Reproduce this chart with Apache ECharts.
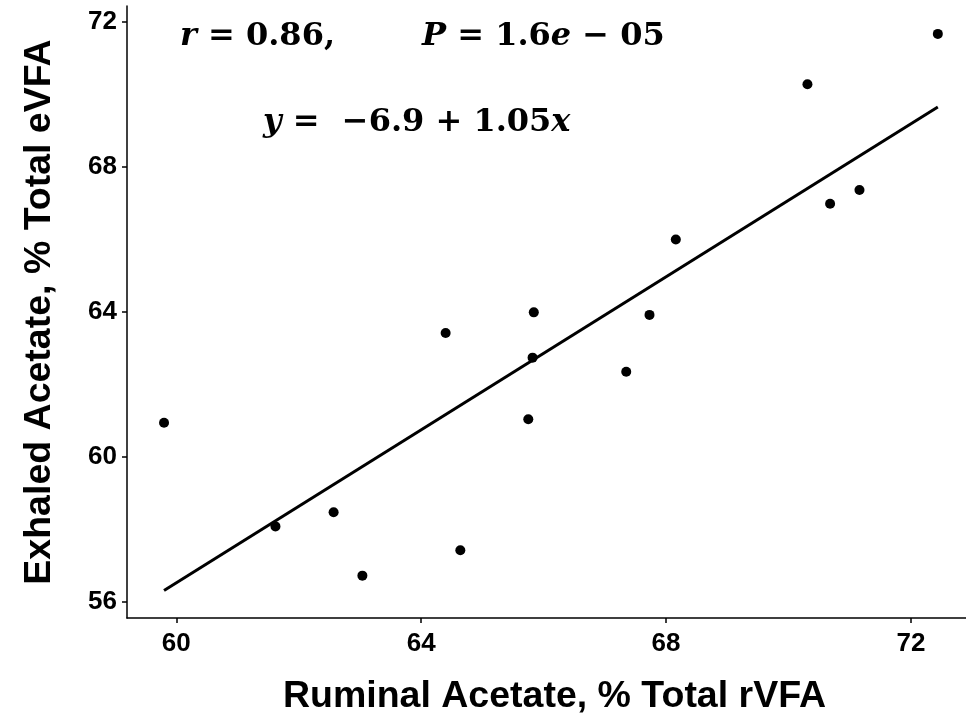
<!DOCTYPE html>
<html>
<head>
<meta charset="utf-8">
<script src="https://cdn.jsdelivr.net/npm/echarts@6/dist/echarts.min.js"></script>
<style>html,body{margin:0;padding:0;background:#fff}#c{width:966px;height:718px}</style>
</head>
<body>
<div id="c"></div>
<script>
var ruminalAcetate = [59.80, 61.62, 62.57, 63.04, 64.40, 64.64, 65.75, 65.82, 65.84, 67.35, 67.73, 68.16, 70.31, 70.68, 71.16, 72.44];
var exhaledAcetate = [60.93, 58.07, 58.46, 56.71, 63.41, 57.41, 61.03, 62.73, 63.98, 62.34, 63.91, 65.99, 70.28, 66.98, 67.36, 71.67];
var fitX = [59.80, 72.44];
var fitY = [56.30, 69.65];
var xTicks = [60, 64, 68, 72];
var yTicks = [56, 60, 64, 68, 72];

var pts = ruminalAcetate.map(function (x, i) { return [x, exhaledAcetate[i]]; });
var fit = fitX.map(function (x, i) { return [x, fitY[i]]; });

var chart = echarts.init(document.getElementById('c'));
var serif = 'DejaVu Serif';
function rt(text) {
  return {
    type: 'text',
    style: {
      text: text,
      fontFamily: serif, fontWeight: 'bold', fontSize: 32, fill: '#000',
      rich: {
        i: { fontFamily: serif, fontWeight: 'bold', fontStyle: 'italic', fontSize: 32, fill: '#000' },
        n: { fontFamily: serif, fontWeight: 'bold', fontSize: 32, fill: '#000' }
      }
    }
  };
}
var t1 = rt('{i|r} {n|= 0.86,}'); t1.left = 180; t1.top = 21;
var t2 = rt('{i|P} {n|= 1.6}{i|e}{n| − 05}'); t2.left = 422; t2.top = 21;
var t3 = rt('{i|y} {n|=  −6.9 + 1.05}{i|x}'); t3.left = 263; t3.top = 107;

chart.setOption({
  animation: false,
  backgroundColor: '#fff',
  grid: { left: 127, right: 0, top: 6, bottom: 100, containLabel: false, outerBoundsMode: 'none' },
  xAxis: {
    type: 'value', min: 59.195, max: 72.9,
    name: 'Ruminal Acetate, % Total rVFA', nameLocation: 'middle', nameGap: 60,
    nameTextStyle: { color: '#000', fontFamily: 'Liberation Sans', fontWeight: 'bold', fontSize: 37.5, padding: [0, 0, 0, 16] },
    axisLine: { show: true, onZero: false, lineStyle: { color: '#000', width: 1.5 } },
    axisTick: { show: true, length: 5, lineStyle: { color: '#000', width: 1.5 }, customValues: xTicks },
    axisLabel: { margin: 13, customValues: xTicks, formatter: function (v) { return String(v); }, color: '#000', fontFamily: 'Liberation Sans', fontWeight: 'bold', fontSize: 26 },
    splitLine: { show: false }
  },
  yAxis: {
    type: 'value', min: 55.54, max: 72.44,
    name: 'Exhaled Acetate, % Total eVFA', nameLocation: 'middle', nameGap: 68, nameRotate: 90,
    nameTextStyle: { color: '#000', fontFamily: 'Liberation Sans', fontWeight: 'bold', fontSize: 37.5 },
    axisLine: { show: true, onZero: false, lineStyle: { color: '#000', width: 1.5 } },
    axisTick: { show: true, length: 5, lineStyle: { color: '#000', width: 1.5 }, customValues: yTicks },
    axisLabel: { margin: 10, customValues: yTicks, formatter: function (v) { return String(v); }, color: '#000', fontFamily: 'Liberation Sans', fontWeight: 'bold', fontSize: 26 },
    splitLine: { show: false }
  },
  graphic: [t1, t2, t3],
  series: [
    { type: 'scatter', data: pts, symbolSize: 10, itemStyle: { color: '#000', opacity: 1 }, z: 3 },
    { type: 'line', data: fit, showSymbol: false, symbol: 'none', lineStyle: { color: '#000', width: 3 }, z: 2 }
  ]
});
</script>
</body>
</html>
